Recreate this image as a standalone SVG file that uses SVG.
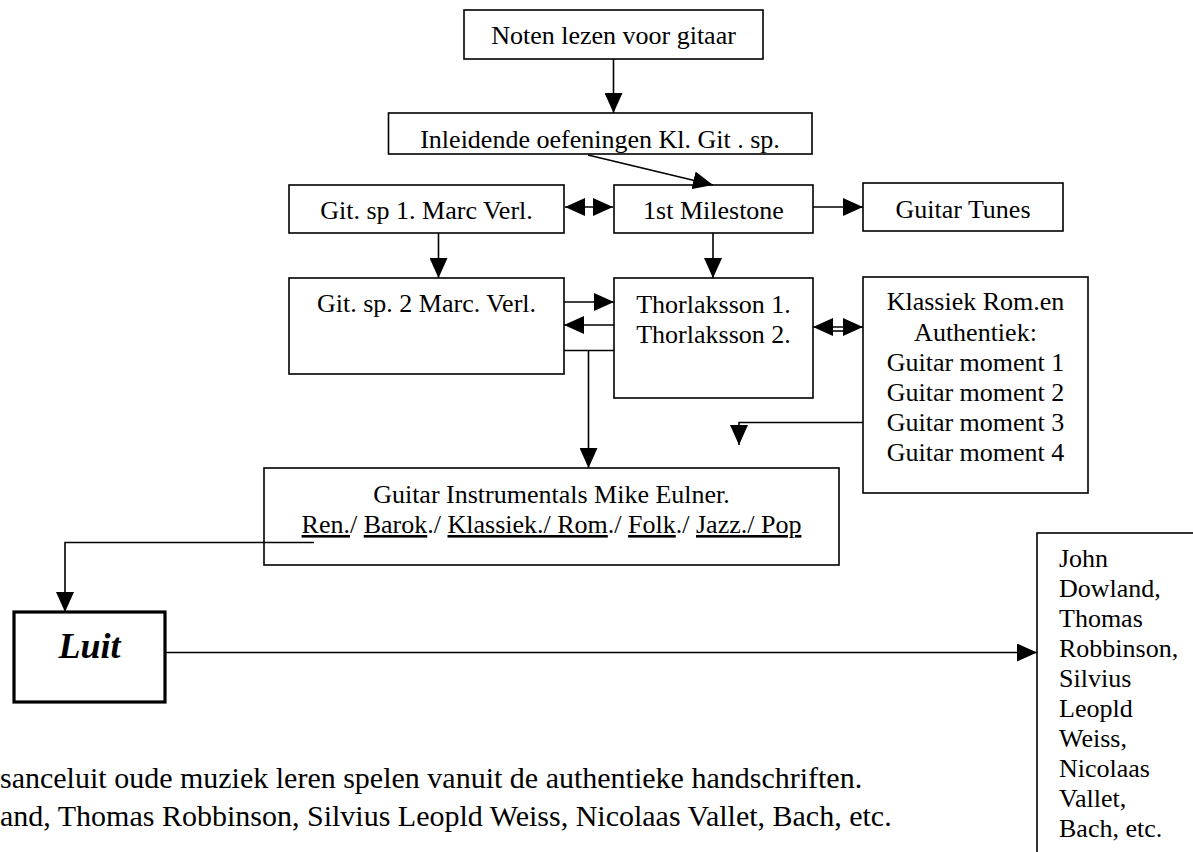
<svg xmlns="http://www.w3.org/2000/svg" width="1193" height="852" viewBox="0 0 1193 852">
<style>
.box{fill:#fff;stroke:#000;stroke-width:1.6}
.thick{fill:#fff;stroke:#000;stroke-width:3.2}
.t{font-family:"Liberation Serif","Times New Roman",serif;font-size:26px;fill:#000}
.c{text-anchor:middle}
.u{text-decoration:underline}
.con{fill:none;stroke:#000;stroke-width:1.6}
</style>
<defs>
<marker id="ah" viewBox="0 0 20 18" markerWidth="20" markerHeight="18" refX="20" refY="9" orient="auto-start-reverse" markerUnits="userSpaceOnUse">
<path d="M0,0 L20,9 L0,18 z" fill="#000"/>
</marker>
</defs>
<rect width="1193" height="852" fill="#fff"/>

<g id="node-noten"><rect class="box" x="464" y="10" width="299" height="49"/><text class="t c" x="613.5" y="44">Noten lezen voor gitaar</text></g>
<g id="node-inleidende"><rect class="box" x="388.5" y="113" width="423.5" height="41"/><text class="t c" x="600" y="148">Inleidende oefeningen Kl. Git . sp.</text></g>
<g id="node-gitsp1"><rect class="box" x="289" y="185" width="275" height="48"/><text class="t c" x="426.5" y="219">Git. sp 1. Marc Verl.</text></g>
<g id="node-milestone"><rect class="box" x="614" y="185" width="199" height="48"/><text class="t c" x="713.5" y="219">1st Milestone</text></g>
<g id="node-tunes"><rect class="box" x="863" y="183" width="200" height="48"/><text class="t c" x="963" y="218">Guitar Tunes</text></g>
<g id="node-gitsp2"><rect class="box" x="289" y="278" width="275" height="96"/><text class="t c" x="426.5" y="312">Git. sp. 2 Marc. Verl.</text></g>
<g id="node-thorlaksson"><rect class="box" x="614" y="278" width="199" height="120"/><text class="t c" x="713.5" y="313">Thorlaksson 1.</text><text class="t c" x="713.5" y="343">Thorlaksson 2.</text></g>
<g id="node-klassiek"><rect class="box" x="863" y="277" width="225" height="216"/>
<text class="t c" x="975.5" y="310">Klassiek Rom.en</text>
<text class="t c" x="975.5" y="341">Authentiek:</text>
<text class="t c" x="975.5" y="371">Guitar moment 1</text>
<text class="t c" x="975.5" y="401">Guitar moment 2</text>
<text class="t c" x="975.5" y="431">Guitar moment 3</text>
<text class="t c" x="975.5" y="461">Guitar moment 4</text></g>
<g id="node-instrumentals"><rect class="box" x="264" y="468" width="575" height="97"/>
<text class="t c" x="551.5" y="503">Guitar Instrumentals Mike Eulner.</text>
<text class="t c" x="551.5" y="533"><tspan class="u">Ren.</tspan>/ <tspan class="u">Barok</tspan>./ <tspan class="u">Klassiek./ Rom</tspan>./ <tspan class="u">Folk</tspan>./ <tspan class="u">Jazz./ Pop</tspan></text></g>
<g id="node-luit"><rect class="thick" x="14" y="612" width="151" height="90"/><text x="89.5" y="658" text-anchor="middle" font-family="Liberation Serif, Times New Roman, serif" font-size="36" font-weight="bold" font-style="italic">Luit</text></g>
<g id="node-componisten"><rect class="box" x="1037" y="533" width="170" height="340"/>
<text class="t" x="1059" y="567">John</text>
<text class="t" x="1059" y="597">Dowland,</text>
<text class="t" x="1059" y="627">Thomas</text>
<text class="t" x="1059" y="657">Robbinson,</text>
<text class="t" x="1059" y="687">Silvius</text>
<text class="t" x="1059" y="717">Leopld</text>
<text class="t" x="1059" y="747">Weiss,</text>
<text class="t" x="1059" y="777">Nicolaas</text>
<text class="t" x="1059" y="807">Vallet,</text>
<text class="t" x="1059" y="837">Bach, etc.</text></g>

<g id="connectors">
<line class="con" x1="613.5" y1="59" x2="613.5" y2="113" marker-end="url(#ah)"/>
<line class="con" x1="588" y1="155" x2="713" y2="185" marker-end="url(#ah)"/>
<line class="con" x1="565" y1="207" x2="613" y2="207" marker-start="url(#ah)" marker-end="url(#ah)"/>
<line class="con" x1="813" y1="207" x2="863" y2="207" marker-end="url(#ah)"/>
<line class="con" x1="438.5" y1="233" x2="438.5" y2="278" marker-end="url(#ah)"/>
<line class="con" x1="713" y1="233" x2="713" y2="278" marker-end="url(#ah)"/>
<line class="con" x1="564" y1="302" x2="614" y2="302" marker-end="url(#ah)"/>
<line class="con" x1="614" y1="325" x2="564" y2="325" marker-end="url(#ah)"/>
<path class="con" d="M564,350.5 H614 M588.5,350.5 V468" marker-end="url(#ah)"/>
<line class="con" x1="813" y1="327" x2="863" y2="327" marker-start="url(#ah)" marker-end="url(#ah)"/>
<line class="con" x1="830" y1="331" x2="846" y2="331"/>
<path class="con" d="M863,422.5 H739 V445" marker-end="url(#ah)"/>
<path class="con" d="M314,542.5 H65 V612" marker-end="url(#ah)"/>
<line class="con" x1="165" y1="652.5" x2="1037" y2="652.5" marker-end="url(#ah)"/>
</g>

<g id="notes">
<text class="t" x="0" y="788" font-size="30" style="font-size:30px">sanceluit oude muziek leren spelen vanuit de authentieke handschriften.</text>
<text class="t" x="0" y="826" style="font-size:30px">and, Thomas Robbinson, Silvius Leopld Weiss, Nicolaas Vallet, Bach, etc.</text>
</g>
</svg>
